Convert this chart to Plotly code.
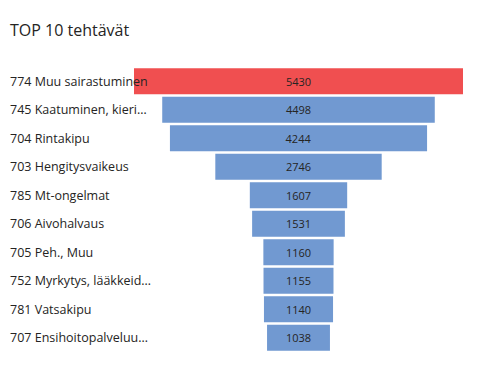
import plotly.graph_objects as go

categories = [
    "774 Muu sairastuminen",
    "745 Kaatuminen, kieri…",
    "704 Rintakipu",
    "703 Hengitysvaikeus",
    "785 Mt-ongelmat",
    "706 Aivohalvaus",
    "705 Peh., Muu",
    "752 Myrkytys, lääkkeid…",
    "781 Vatsakipu",
    "707 Ensihoitopalveluu…",
]
values = [5430, 4498, 4244, 2746, 1607, 1531, 1160, 1155, 1140, 1038]
highlight = [True] + [False] * 9

RED = "#F04F50"
BLUE = "#7199D1"
colors = [RED if h else BLUE for h in highlight]

fig = go.Figure(go.Funnel(
    y=categories,
    x=values,
    marker=dict(color=colors, line=dict(width=0)),
    connector=dict(visible=False),
    textinfo="value",
    textposition="inside",
    insidetextanchor="middle",
    insidetextfont=dict(color="#252423", size=11, family="Open Sans, sans-serif"),
    constraintext="none",
    hoverinfo="skip",
))

for c in categories:
    fig.add_annotation(
        x=0, xref="paper", xanchor="left", xshift=-126,
        y=c, yref="y",
        text=c, showarrow=False,
        font=dict(size=12.5, color="#252423", family="Open Sans, sans-serif"),
        align="left",
    )

W, H = 470, 366
vmax = max(values)
fig.update_layout(
    width=W, height=H,
    paper_bgcolor="white", plot_bgcolor="white",
    margin=dict(l=126, r=15, t=59, b=22),
    showlegend=False,
    funnelgap=0.09,
    title=dict(text="TOP 10 tehtävät", x=2 / W, xanchor="left", y=1 - 22 / H, yanchor="middle",
               font=dict(size=16, color="#252423", family="Open Sans, sans-serif")),
    xaxis=dict(visible=False, range=[-vmax / 2, vmax / 2]),
    yaxis=dict(visible=False, autorange="reversed"),
)

fig.write_html("out.html")
